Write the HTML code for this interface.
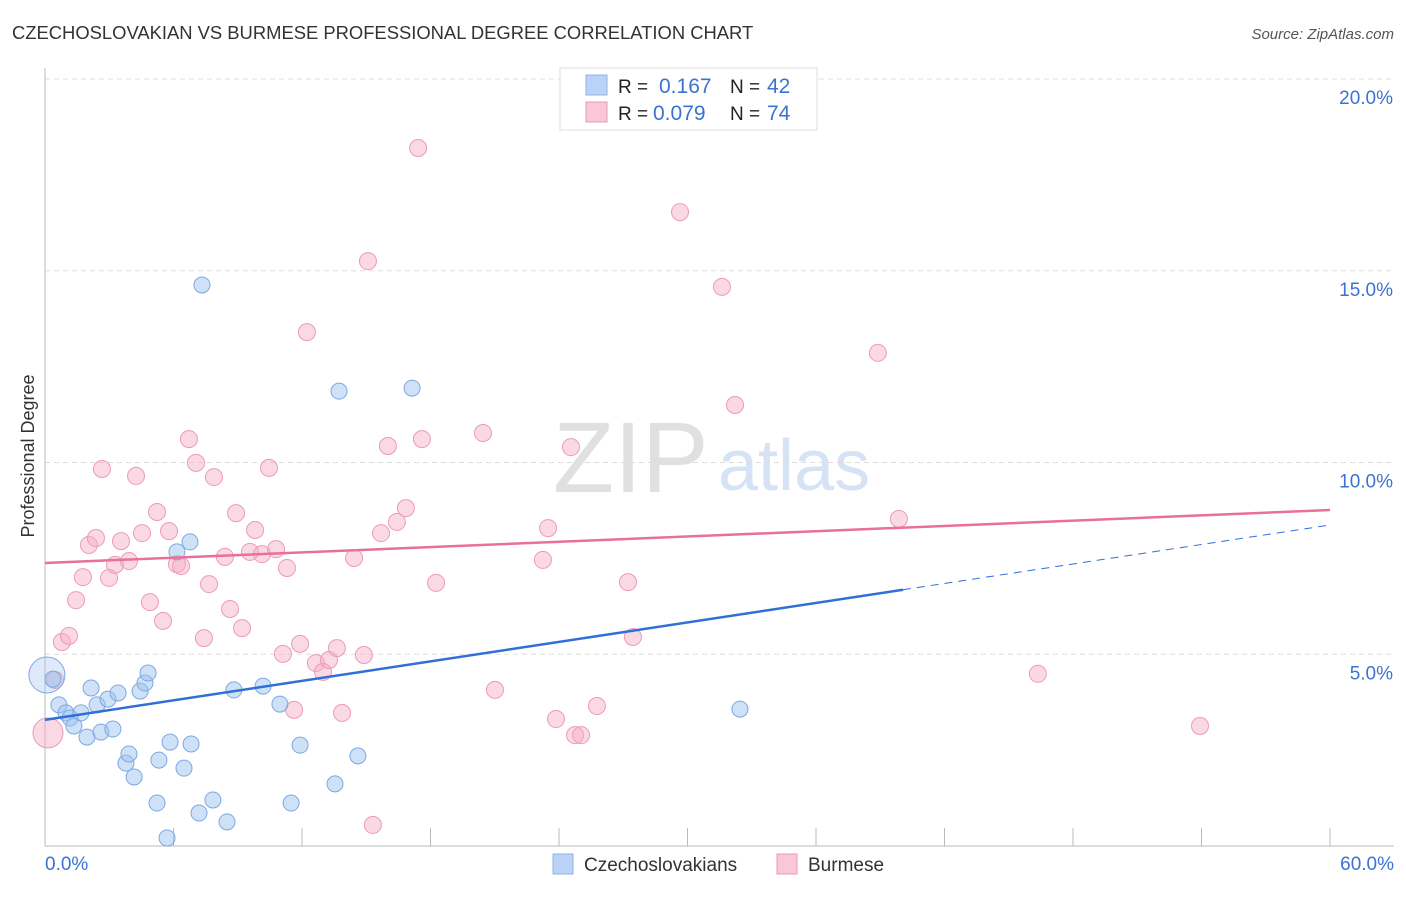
<!DOCTYPE html>
<html><head><meta charset="utf-8"><style>
body{margin:0;background:#fff;font-family:"Liberation Sans",sans-serif;}
svg text{font-family:"Liberation Sans",sans-serif;}
</style></head><body>
<svg id="chart" width="1406" height="892" xmlns="http://www.w3.org/2000/svg">
<text x="12" y="39" font-size="18.4" fill="#333">CZECHOSLOVAKIAN VS BURMESE PROFESSIONAL DEGREE CORRELATION CHART</text>
<text x="1394" y="39" font-size="15" fill="#555" font-style="italic" text-anchor="end">Source: ZipAtlas.com</text>
<text x="553" y="492" font-size="100" fill="#e0e0e0" font-family="Liberation Serif">ZIP</text>
<text x="718" y="490" font-size="72" fill="#d5e3f5">atlas</text>
<g id="grid"></g>
<g id="axes"></g>
<g id="marks"></g>
<g id="trends"></g>
<text x="34" y="456" font-size="18" fill="#333" transform="rotate(-90 34 456)" text-anchor="middle">Professional Degree</text>
<g>
<rect x="560" y="68" width="257" height="62" fill="#fff" stroke="#ddd"/>
<rect x="586" y="75" width="21" height="20" fill="#b9d2f5" stroke="#8db3e6"/>
<rect x="586" y="102" width="21" height="20" fill="#f9c7d6" stroke="#ea9ab5"/>
<text x="618" y="93" font-size="19" fill="#222">R = </text><text x="659" y="93" font-size="21" fill="#3a73d1">0.167</text>
<text x="730" y="93" font-size="19" fill="#222">N = </text><text x="767" y="93" font-size="21" fill="#3a73d1">42</text>
<text x="618" y="120" font-size="19" fill="#222">R = </text><text x="653" y="120" font-size="21" fill="#3a73d1">0.079</text>
<text x="730" y="120" font-size="19" fill="#222">N = </text><text x="767" y="120" font-size="21" fill="#3a73d1">74</text>
</g>
<g>
<rect x="553" y="854" width="20" height="20" fill="#b9d2f5" stroke="#8db3e6"/>
<text x="584" y="871" font-size="19" fill="#333">Czechoslovakians</text>
<rect x="777" y="854" width="20" height="20" fill="#f9c7d6" stroke="#ea9ab5"/>
<text x="808" y="871" font-size="19" fill="#333">Burmese</text>
</g>
<script>
const yTicks=[5,10,15,20];
const yTickLabels=["5.0%","10.0%","15.0%","20.0%"];
const xTickLabels=["0.0%","60.0%"];
const blueX=[0.09,0.37,0.65,0.98,1.17,1.35,1.68,1.96,2.15,2.43,2.61,2.94,3.17,3.41,3.78,3.92,4.16,4.44,4.67,4.81,5.23,5.32,5.70,5.84,6.16,6.49,6.77,6.82,7.19,7.33,7.84,8.50,8.82,10.18,10.97,11.49,11.91,13.54,13.73,14.61,17.14,32.45];
const blueY=[4.46,4.35,3.68,3.47,3.34,3.13,3.47,2.84,4.12,3.68,2.97,3.83,3.05,3.99,2.16,2.40,1.80,4.04,4.25,4.51,1.12,2.24,0.21,2.71,7.67,2.03,7.93,2.66,0.86,14.63,1.20,0.63,4.07,4.17,3.70,1.12,2.63,1.62,11.86,2.35,11.94,3.57];
const pinkX=[0.14,0.47,0.79,1.12,1.45,1.77,2.05,2.38,2.66,2.99,3.27,3.55,3.92,4.25,4.53,4.90,5.23,5.51,5.79,6.16,6.35,6.72,7.05,7.42,7.66,7.89,8.40,8.64,8.92,9.20,9.57,9.81,10.13,10.46,10.79,11.11,11.30,11.63,11.91,12.23,12.65,12.98,13.26,13.63,13.87,14.43,14.89,15.08,15.31,15.69,16.01,16.43,16.85,17.42,17.60,18.26,20.45,21.01,23.25,23.49,23.86,24.56,24.75,25.03,25.77,27.22,27.45,29.65,31.61,32.22,38.89,39.87,46.36,53.93];
const pinkY=[2.95,4.33,5.32,5.48,6.41,7.01,7.85,8.03,9.83,6.99,7.33,7.95,7.43,9.65,8.16,6.36,8.71,5.87,8.21,7.35,7.30,10.61,9.99,5.42,6.83,9.62,7.54,6.18,8.68,5.68,7.67,8.24,7.61,9.86,7.74,5.01,7.25,3.55,5.27,13.40,4.77,4.54,4.85,5.16,3.47,7.51,4.98,15.25,0.55,8.16,10.43,8.45,8.81,18.20,10.61,6.86,10.77,4.07,7.46,8.29,3.31,10.40,2.89,2.89,3.65,6.88,5.45,16.53,14.58,11.50,12.86,8.53,4.49,3.13];
const blueTrend=[3.29,8.37];
const pinkTrend=[7.38,8.76];
const blueSolidEnd=40.06;
const NS='http://www.w3.org/2000/svg';
const X=v=>45+v*1285/60, Y=v=>846-v*38.35;
function mk(tag,attrs,parent){const e=document.createElementNS(NS,tag);for(const k in attrs)e.setAttribute(k,attrs[k]);parent.appendChild(e);return e;}
const grid=document.getElementById('grid'),axes=document.getElementById('axes'),marks=document.getElementById('marks'),trends=document.getElementById('trends');
yTicks.forEach((t,i)=>{
 const l=mk('line',{x1:45,x2:1394,y1:Y(t),y2:Y(t),stroke:'#ddd','stroke-dasharray':'5,4'},grid);
 
 
 const tx=mk('text',{x:1393,y:Y(t)+25,'font-size':19,fill:'#3a73d1','text-anchor':'end'},axes);
 tx.textContent=yTickLabels[i];
 
 
});
mk('line',{x1:45,x2:45,y1:68,y2:846,stroke:'#bbb'},axes);
mk('line',{x1:45,x2:1394,y1:846,y2:846,stroke:'#bbb'},axes);
for(let i=0;i<=10;i++){mk('line',{x1:X(i*6),x2:X(i*6),y1:828,y2:846,stroke:'#bbb'},axes);}
[[0,'start',45],[1,'end',1394]].forEach(([i,a,x])=>{const t=mk('text',{x:x,y:870,'font-size':19,fill:'#3a73d1','text-anchor':a},axes);t.textContent=xTickLabels[i];
 
 });
pinkX.forEach((v,i)=>{const c=mk('circle',{cx:X(v),cy:Y(pinkY[i]),r:i==0?15:8.5,fill:'rgba(246,170,195,0.45)',stroke:'#ec9bb6','stroke-width':1},marks);
 
 });
blueX.forEach((v,i)=>{const c=mk('circle',{cx:X(v),cy:Y(blueY[i]),r:i==0?18:8,fill:i==0?'rgba(160,195,240,0.35)':'rgba(160,195,240,0.5)',stroke:'#7ea8e2','stroke-width':1},marks);
 
 });
const by=x=>blueTrend[0]+(blueTrend[1]-blueTrend[0])*x/60;
let l1=mk('line',{x1:X(0),y1:Y(by(0)),x2:X(blueSolidEnd),y2:Y(by(blueSolidEnd)),stroke:'#2f6fd6','stroke-width':2.5},trends);


let l2=mk('line',{x1:X(blueSolidEnd),y1:Y(by(blueSolidEnd)),x2:X(60),y2:Y(by(60)),stroke:'#2f6fd6','stroke-width':1,'stroke-dasharray':'8,6'},trends);


let l3=mk('line',{x1:X(0),y1:Y(pinkTrend[0]),x2:X(60),y2:Y(pinkTrend[1]),stroke:'#e8709a','stroke-width':2.5},trends);


</script>
</svg>
</body></html>
